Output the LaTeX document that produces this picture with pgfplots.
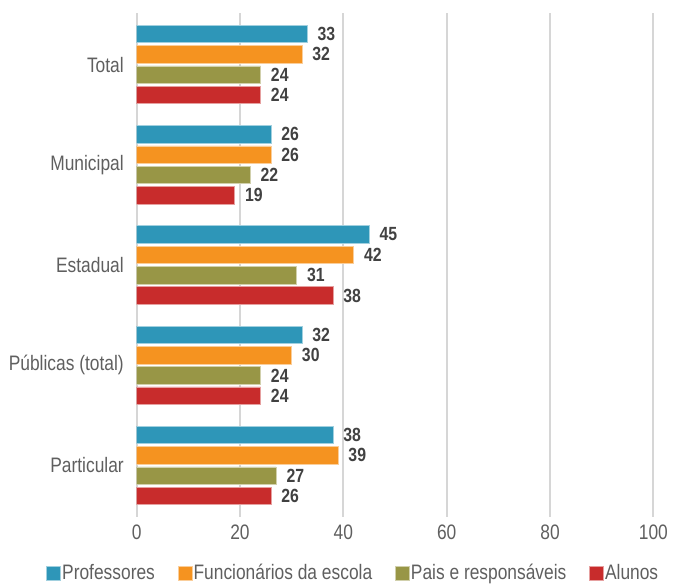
\documentclass[border=0pt]{standalone}
\usepackage{fontspec}
\setmainfont{Liberation Sans}[FakeStretch=0.83]
\usepackage{pgfplots}
\pgfplotsset{compat=1.18}
\definecolor{cblue}{RGB}{46,150,184}
\definecolor{corange}{RGB}{245,147,32}
\definecolor{colive}{RGB}{152,150,70}
\definecolor{cred}{RGB}{200,44,44}
\definecolor{gridgray}{RGB}{214,214,214}
\definecolor{txtgray}{RGB}{95,95,95}
\definecolor{valgray}{RGB}{65,65,65}
\begin{document}
\begin{tikzpicture}
\begin{axis}[
  at={(0,0)}, anchor=south west,
  scale only axis, width=387.5pt, height=378pt,
  xbar, y dir=reverse,
  xmin=0, xmax=100, ymin=-0.514, ymax=4.514,
  xtick={0,20,40,60,80,100},
  ytick={0,1,2,3,4},
  yticklabels={Total,Municipal,Estadual,Públicas (total),Particular},
  axis line style={draw=none}, major tick length=0pt,
  xmajorgrids, major grid style={line width=1.4pt, color=gridgray},
  bar width=0.1746,
  /pgf/number format/assume math mode=true,
  tick label style={font=\fontsize{15.7}{18}\selectfont, text=txtgray},
  xticklabel style={anchor=north, inner sep=0pt, yshift=-6pt},
  yticklabel style={anchor=east, inner sep=0pt, xshift=-9.5pt},
  point meta=x,
  nodes near coords,
  every node near coord/.append style={anchor=west, inner sep=0pt, xshift=7.5pt, font=\fontsize{14.3}{16}\selectfont\bfseries, text=valgray},
  legend columns=4,
  legend style={at={(-0.1756,-0.111)}, anchor=west, draw=none, fill=none,
    font=\fontsize{15.7}{18}\selectfont, text=txtgray, inner sep=0pt,
    /tikz/every even column/.append style={column sep=16pt},
    nodes={inner sep=1pt}},
  legend image code/.code={\fill[#1] (0pt,-5.25pt) rectangle (10.5pt,5.25pt);},
]
\addplot[fill=cblue, draw=cblue!45!white, line width=0.5pt, bar shift=-0.3042]
  coordinates {(33,0) (26,1) (45,2) (32,3) (38,4)};
\addplot[fill=corange, draw=corange!45!white, line width=0.5pt, bar shift=-0.1014]
  coordinates {(32,0) (26,1) (42,2) (30,3) (39,4)};
\addplot[fill=colive, draw=colive!45!white, line width=0.5pt, bar shift=0.1014]
  coordinates {(24,0) (22,1) (31,2) (24,3) (27,4)};
\addplot[fill=cred, draw=cred!45!white, line width=0.5pt, bar shift=0.3042]
  coordinates {(24,0) (19,1) (38,2) (24,3) (26,4)};
\legend{Professores, Funcionários da escola, Pais e responsáveis, Alunos}
\end{axis}
\pgfresetboundingbox
\path[use as bounding box] (-102.5pt,-49.5pt) rectangle (403.75pt,387.75pt);
\end{tikzpicture}
\end{document}
